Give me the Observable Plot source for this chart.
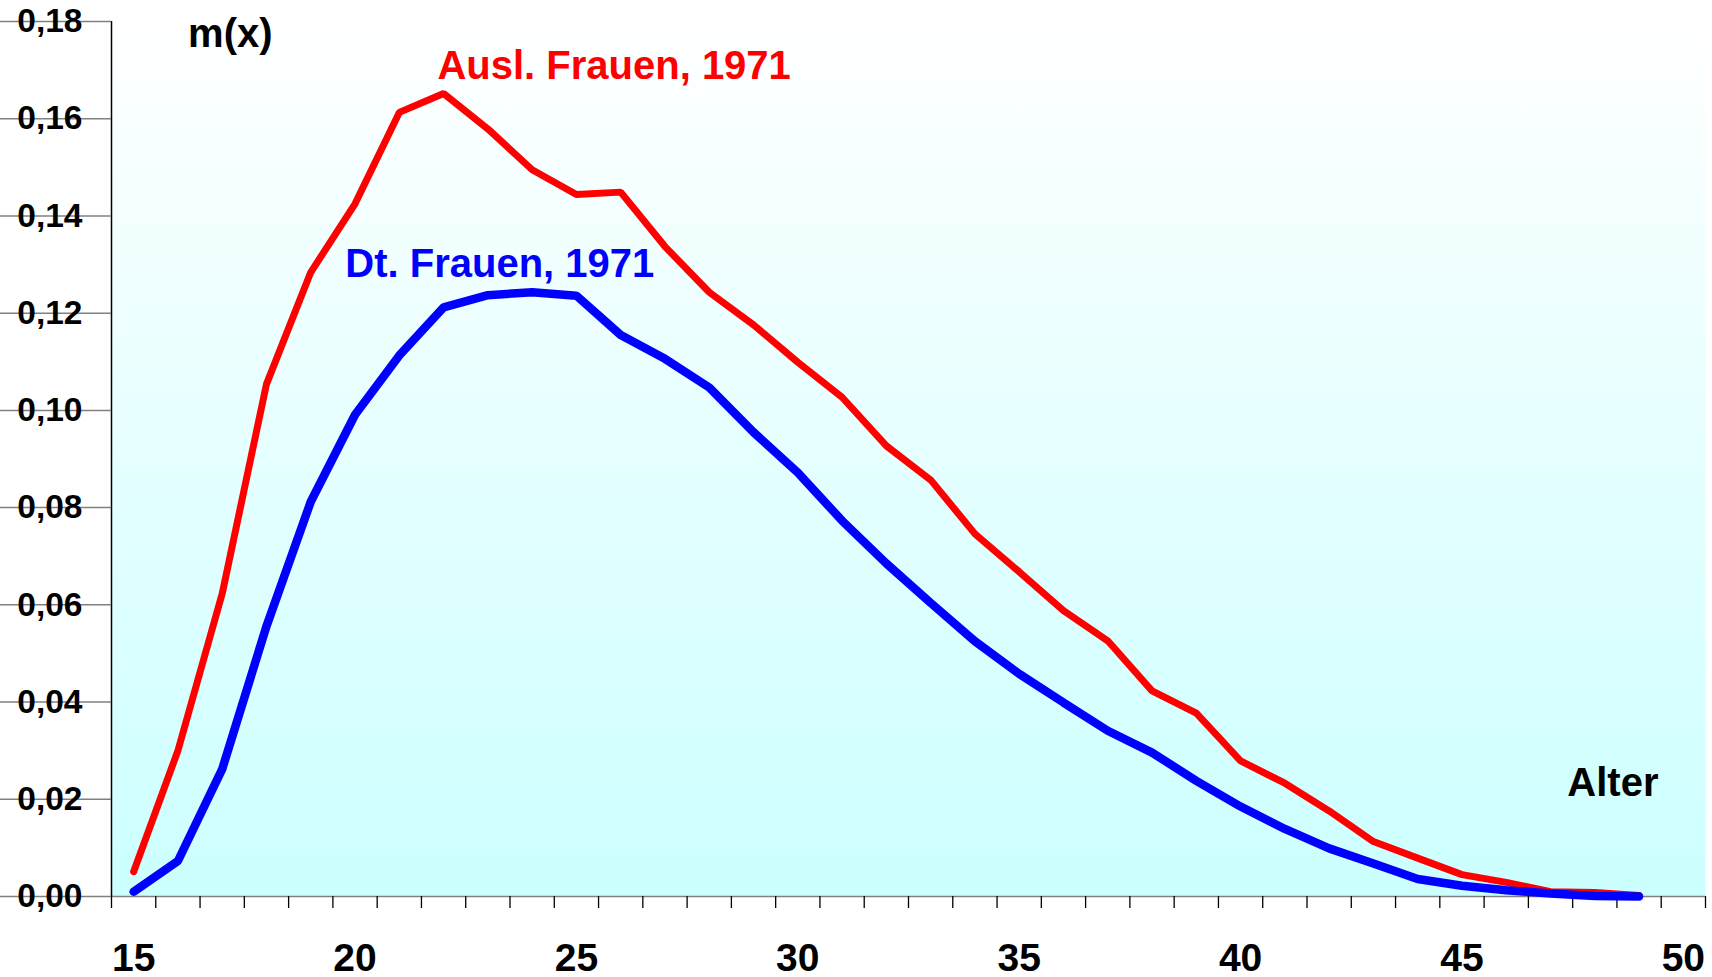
<!DOCTYPE html>
<html>
<head>
<meta charset="utf-8">
<script src="https://cdn.jsdelivr.net/npm/d3@7"></script>
<script src="https://cdn.jsdelivr.net/npm/@observablehq/plot@0.6"></script>
<style>
  html, body { margin: 0; padding: 0; background: #fff; overflow: hidden; }
  #chart svg { display: block; }
</style>
</head>
<body>
<div id="chart"></div>
<script>
// ---- data ----
const ages = [15,16,17,18,19,20,21,22,23,24,25,26,27,28,29,30,31,32,33,34,35,36,37,38,39,40,41,42,43,44,45,46,47,48,49];
const auslFrauen1971 = [0.0051,0.0300,0.0623,0.1054,0.1284,0.1425,0.1613,0.1652,0.1579,0.1495,0.1444,0.1449,0.1337,0.1243,0.1176,0.1099,0.1027,0.0927,0.0857,0.0746,0.0668,0.0588,0.0526,0.0423,0.0377,0.0279,0.0233,0.0176,0.0113,0.0079,0.0045,0.0029,0.0010,0.0008,0.0002];
const dtFrauen1971 = [0.0010,0.0073,0.0262,0.0556,0.0812,0.0991,0.1113,0.1212,0.1237,0.1243,0.1236,0.1155,0.1106,0.1047,0.0955,0.0872,0.0773,0.0685,0.0604,0.0525,0.0458,0.0399,0.0341,0.0296,0.0238,0.0185,0.0139,0.0099,0.0068,0.0036,0.0022,0.0013,0.0006,0.0001,0.0000];
const xTickLabels = [15,20,25,30,35,40,45,50];
const yTickValues = [0,0.02,0.04,0.06,0.08,0.10,0.12,0.14,0.16,0.18];
const xDomain = [14.5, 50.5];
const yDomain = [0, 0.18];
const seriesLabels = [
  {text: "Ausl. Frauen, 1971", x: 21.86, y: 0.1682, color: "#ff0000"},
  {text: "Dt. Frauen, 1971", x: 19.78, y: 0.1274, color: "#0000ff"}
];
const axisTitles = [
  {text: "m(x)", x: 16.23, y: 0.1747},
  {text: "Alter", x: 47.38, y: 0.0207}
];

const ausl = ages.map((a, i) => ({age: a, m: auslFrauen1971[i]}));
const dt = ages.map((a, i) => ({age: a, m: dtFrauen1971[i]}));
const xBoundaries = d3.range(xDomain[0], xDomain[1] + 0.5, 1);
const fmt = d => d.toFixed(2).replace(".", ",");
const font = "'Liberation Sans', Arial, Helvetica, sans-serif";

const svg = Plot.plot({
  width: 1712,
  height: 977,
  marginLeft: 111,
  marginRight: 7,
  marginTop: 21,
  marginBottom: 81,
  style: {fontFamily: font, background: "white", overflow: "visible"},
  x: {type: "linear", domain: xDomain, axis: null},
  y: {type: "linear", domain: yDomain, axis: null},
  marks: [
    Plot.frame({fill: "url(#bg)", stroke: "none"}),
    // axis lines
    Plot.ruleY([0], {stroke: "#808080", strokeWidth: 1.5}),
    Plot.ruleX([xDomain[0]], {stroke: "#000", strokeWidth: 1.5}),
    // y ticks (outside, left)
    Plot.ruleY(yTickValues, {y: d => d, x2: xDomain[0], insetLeft: -11, stroke: "#808080", strokeWidth: 1.5}),
    // x ticks (below)
    Plot.ruleX(xBoundaries, {x: d => d, y1: 0, y2: 0, insetBottom: -12, stroke: "#000", strokeWidth: 1.3}),
    // y tick labels
    Plot.text(yTickValues, {x: xDomain[0], y: d => d, text: fmt, textAnchor: "end", dx: -29, fontSize: 33.5, fontWeight: "bold", fill: "#000"}),
    // x tick labels
    Plot.text(xTickLabels, {x: d => d, y: 0, text: d => String(d), lineAnchor: "bottom", dy: 74, fontSize: 39, fontWeight: "bold", fill: "#000", ariaLabel: "xlabels"}),
    // series
    Plot.line(ausl, {x: "age", y: "m", stroke: "#ff0000", strokeWidth: 7, strokeLinecap: "round", strokeLinejoin: "miter"}),
    Plot.line(dt, {x: "age", y: "m", stroke: "#0000ff", strokeWidth: 8.5, strokeLinecap: "round", strokeLinejoin: "miter"}),
    // labels
    Plot.text(seriesLabels, {x: "x", y: "y", text: "text", fill: d => d.color, textAnchor: "start", lineAnchor: "bottom", fontSize: 40, fontWeight: "bold"}),
    Plot.text(axisTitles, {x: "x", y: "y", text: "text", fill: "#000", textAnchor: "start", lineAnchor: "bottom", fontSize: 40, fontWeight: "bold"})
  ]
});

// gradient background definition
const defs = document.createElementNS("http://www.w3.org/2000/svg", "defs");
defs.innerHTML = '<linearGradient id="bg" x1="0" y1="0" x2="0" y2="1"><stop offset="0" stop-color="#ffffff"/><stop offset="1" stop-color="#ccffff"/></linearGradient>';
svg.insertBefore(defs, svg.firstChild);

// condense x tick labels horizontally (narrow face in the original)
svg.querySelectorAll('g[aria-label="xlabels"] text').forEach(t => {
  const tr = t.getAttribute("transform");
  if (tr) t.setAttribute("transform", tr + " scale(0.85,1)");
  else {
    const x = +t.getAttribute("x") || 0;
    t.setAttribute("transform", `translate(${x},0) scale(0.85,1) translate(${-x},0)`);
  }
});

document.getElementById("chart").appendChild(svg);
</script>
</body>
</html>
